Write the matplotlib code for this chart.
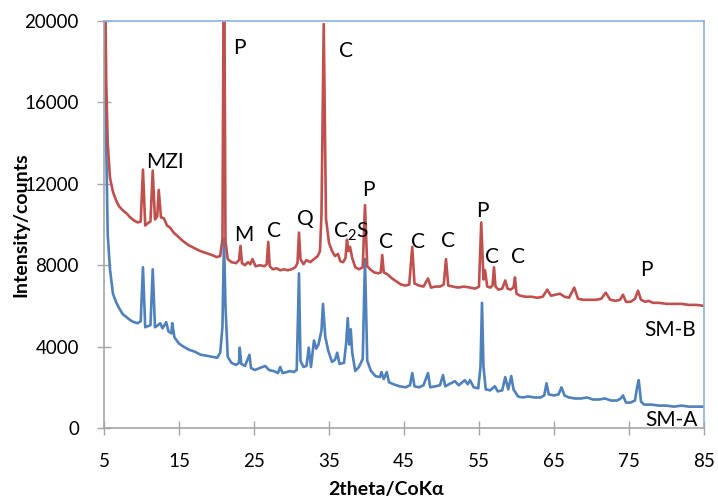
import matplotlib
matplotlib.use("Agg")
import matplotlib.pyplot as plt

plt.rcParams['font.family'] = ['Lato', 'DejaVu Sans']
plt.rcParams['mathtext.default'] = 'regular'

# SM-B (upper, red) trace
smb_x = [5.1, 5.3, 5.5, 5.8, 6.2, 6.6, 7.0, 7.5, 8.0, 8.5, 9.0, 9.5, 9.9, 10.2, 10.5, 10.8, 11.2, 11.5,
         11.8, 12.1, 12.3, 12.6, 13.0, 13.4, 13.8, 14.3, 14.9, 15.5, 16.2, 17.0, 17.8, 18.6, 19.4, 20.0,
         20.5, 20.8, 21.0, 21.2, 21.5, 22.0, 22.6, 23.0, 23.2, 23.4, 23.8, 24.2, 24.5, 24.8, 25.2, 25.8,
         26.4, 26.7, 26.9, 27.1, 27.5, 28.0, 28.5, 29.0, 29.5, 30.0, 30.5, 30.8, 31.0, 31.2, 31.6, 32.0,
         32.5, 33.0, 33.5, 33.8, 34.0, 34.3, 34.6, 35.0, 35.4, 35.8, 36.2, 36.5, 36.9, 37.2, 37.4, 37.6,
         37.8, 38.1, 38.5, 39.0, 39.5, 39.8, 40.1, 40.5, 41.0, 41.6, 41.9, 42.1, 42.3, 42.8, 43.4, 44.0,
         44.6, 45.2, 45.7, 46.1, 46.4, 47.0, 47.6, 48.2, 48.6, 49.2, 49.8, 50.3, 50.6, 50.9, 51.5, 52.2,
         53.0, 53.8, 54.5, 55.0, 55.3, 55.6, 55.8, 56.1, 56.5, 56.8, 57.0, 57.2, 57.6, 58.1, 58.5, 58.8,
         59.2, 59.6, 59.8, 60.0, 60.5, 61.2, 62.0, 62.8, 63.5, 64.1, 64.6, 65.2, 65.8, 66.4, 67.0, 67.7,
         68.2, 68.9, 69.8, 70.6, 71.3, 71.9, 72.5, 73.2, 73.8, 74.2, 74.6, 75.2, 75.8, 76.2, 76.6, 77.2,
         77.6, 78.2, 79.0, 80.0, 81.0, 82.0, 83.0, 84.0, 85.0]
smb_y = [24000, 17000, 14000, 12300, 11600, 11200, 10900, 10700, 10550, 10350, 10200, 10100, 10150, 12700,
         9950, 10050, 10150, 12650, 10250, 10400, 11700, 10350, 10300, 9950, 9850, 9600, 9400, 9200, 9000,
         8850, 8700, 8600, 8500, 8400, 8450, 9300, 26000, 9200, 8300, 8150, 8100, 8250, 8950, 8100, 8000,
         8150, 8050, 8300, 7950, 8000, 7950, 8050, 9150, 7950, 7800, 7850, 7750, 7800, 7750, 7800, 7900,
         8100, 9600, 8300, 8050, 8250, 8150, 8300, 8450, 8700, 10500, 19850, 10300, 9100, 8700, 8450, 8550,
         8200, 8150, 8350, 9250, 8700, 8900, 8350, 7900, 7800, 7900, 10950, 7950, 7800, 7650, 7600, 7650,
         8500, 7650, 7550, 7350, 7200, 7050, 7000, 7050, 8900, 7100, 7000, 6950, 7350, 6900, 6950, 6950,
         7050, 8300, 7000, 6950, 6900, 6950, 6900, 6850, 6950, 10100, 7300, 7750, 6950, 6900, 7000, 7900,
         6950, 6800, 6850, 7250, 6850, 6800, 6900, 7400, 6600, 6500, 6450, 6450, 6400, 6450, 6800, 6500,
         6550, 6600, 6450, 6400, 6900, 6350, 6300, 6300, 6300, 6350, 6650, 6300, 6250, 6300, 6550, 6200,
         6200, 6350, 6750, 6300, 6200, 6250, 6150, 6150, 6100, 6100, 6100, 6050, 6050, 6000]

# SM-A (lower, blue) trace
sma_x = [5.05, 5.3, 5.5, 5.8, 6.2, 6.6, 7.0, 7.5, 8.0, 8.5, 9.0, 9.5, 9.9, 10.2, 10.5, 10.8, 11.2, 11.5,
         11.8, 12.2, 12.5, 12.8, 13.3, 13.6, 14.0, 14.1, 14.4, 15.0, 15.6, 16.3, 17.1, 17.9, 18.7, 19.4,
         20.1, 20.5, 20.8, 21.0, 21.2, 21.5, 22.0, 22.6, 23.0, 23.1, 23.3, 23.8, 24.4, 24.6, 25.1, 25.8,
         26.5, 27.0, 27.6, 28.2, 28.5, 28.8, 29.4, 29.8, 30.3, 30.7, 31.0, 31.2, 31.6, 32.0, 32.3, 32.6,
         33.0, 33.3, 33.6, 34.0, 34.2, 34.5, 34.9, 35.4, 35.8, 36.1, 36.4, 37.0, 37.3, 37.5, 37.7, 37.9,
         38.1, 38.5, 39.0, 39.5, 39.8, 40.1, 40.6, 41.2, 41.8, 42.0, 42.3, 42.7, 43.0, 43.6, 44.4, 45.2,
         45.8, 46.1, 46.4, 47.0, 47.6, 48.2, 48.5, 49.2, 49.8, 50.2, 50.5, 51.0, 51.8, 52.3, 53.1, 53.5,
         53.8, 54.3, 54.9, 55.2, 55.4, 55.6, 55.9, 56.5, 57.1, 57.5, 58.1, 58.5, 58.9, 59.3, 59.6, 60.2,
         60.8, 61.6, 62.4, 63.2, 63.7, 64.0, 64.3, 65.0, 65.6, 66.0, 66.4, 67.0, 67.8, 68.6, 69.4, 70.2,
         71.0, 71.8, 72.6, 73.4, 73.9, 74.2, 74.6, 75.2, 75.8, 76.1, 76.3, 76.6, 77.0, 78.0, 79.0, 80.0,
         81.0, 82.0, 83.0, 84.0, 85.0]
sma_y = [24000, 14000, 9500, 7800, 6600, 6200, 5900, 5600, 5450, 5300, 5200, 5150, 5250, 7900, 4950, 5000,
         5050, 7800, 4950, 5050, 5150, 4900, 5200, 4750, 4650, 5150, 4450, 4150, 4000, 3850, 3750, 3600,
         3550, 3500, 3450, 3700, 5000, 9300, 6000, 3500, 3200, 3100, 3200, 3950, 3150, 3050, 3600, 2950,
         2850, 2950, 3050, 2850, 2800, 2700, 3000, 2700, 2750, 2800, 2750, 2850, 7600, 3300, 3000, 3050,
         3950, 3000, 4300, 3900, 4100, 4800, 6100, 4500, 3800, 3250, 3350, 3700, 3150, 3200, 4200, 5400,
         4100, 4850, 3700, 2800, 3000, 3400, 8300, 3300, 2800, 2550, 2500, 2750, 2400, 2750, 2250, 2150,
         2050, 2000, 2100, 2700, 2050, 2000, 2100, 2700, 2000, 2050, 2100, 2600, 2050, 2150, 2300, 2100,
         2350, 2150, 2350, 2000, 1950, 3000, 6150, 3000, 1900, 1850, 2050, 1800, 1850, 2500, 1900, 2550,
         1900, 1550, 1500, 1550, 1500, 1500, 1600, 2200, 1650, 1600, 1650, 2000, 1600, 1500, 1450, 1450,
         1500, 1400, 1400, 1450, 1350, 1350, 1450, 1600, 1250, 1250, 1350, 2050, 2350, 1300, 1150, 1150,
         1100, 1100, 1050, 1100, 1050, 1050, 1050]

# phase labels: (text, x, y)
peak_labels = [("P", 23.1, 18650), ("C", 37.3, 18550), ("MZI", 13.1, 13050), ("M", 23.7, 9500),
               ("C", 27.7, 9700), ("Q", 31.9, 10250), ("C$_2$S", 37.9, 9650), ("P", 40.3, 11700),
               ("C", 42.6, 9150), ("C", 46.9, 9150), ("C", 50.9, 9200), ("P", 55.5, 10650),
               ("C", 56.7, 8400), ("C", 60.2, 8400), ("P", 77.3, 7750),
               ("SM-B", 80.5, 4800), ("SM-A", 80.7, 380)]

x_ticks = [5, 15, 25, 35, 45, 55, 65, 75, 85]
y_ticks = [0, 4000, 8000, 12000, 16000, 20000]

fig = plt.figure(figsize=(7.18, 5.04), dpi=100)
ax = fig.add_axes([0.1448, 0.1508, 0.8357, 0.8075])

ax.plot(sma_x, sma_y, color='#4f81bd', linewidth=1.9)
ax.plot(smb_x, smb_y, color='#c0504d', linewidth=1.9)

for txt, x, y in peak_labels:
    ax.text(x, y, txt, fontsize=15, ha='center', va='center', color='black')

ax.set_xlim(5, 85)
ax.set_ylim(0, 20000)
ax.set_xticks(x_ticks)
ax.set_yticks(y_ticks)
ax.tick_params(axis='both', direction='inout', length=10, width=1, color='#a6a6a6',
               labelsize=13.5)
ax.tick_params(axis='y', pad=13)
ax.tick_params(axis='x', pad=13)

for side in ['left', 'bottom']:
    ax.spines[side].set_color('#a6a6a6')
    ax.spines[side].set_linewidth(1.2)
for side in ['top', 'right']:
    ax.spines[side].set_color('#8db3e2')
    ax.spines[side].set_linewidth(1.2)

ax.set_xlabel('2theta/CoK\u03b1', fontsize=14, fontweight='bold', va='center')
ax.xaxis.set_label_coords(0.47, -0.152)
ax.set_ylabel('Intensity/counts', fontsize=14, fontweight='bold', va='center')
ax.yaxis.set_label_coords(-0.138, 0.50)

fig.savefig('out.png', dpi=100)
